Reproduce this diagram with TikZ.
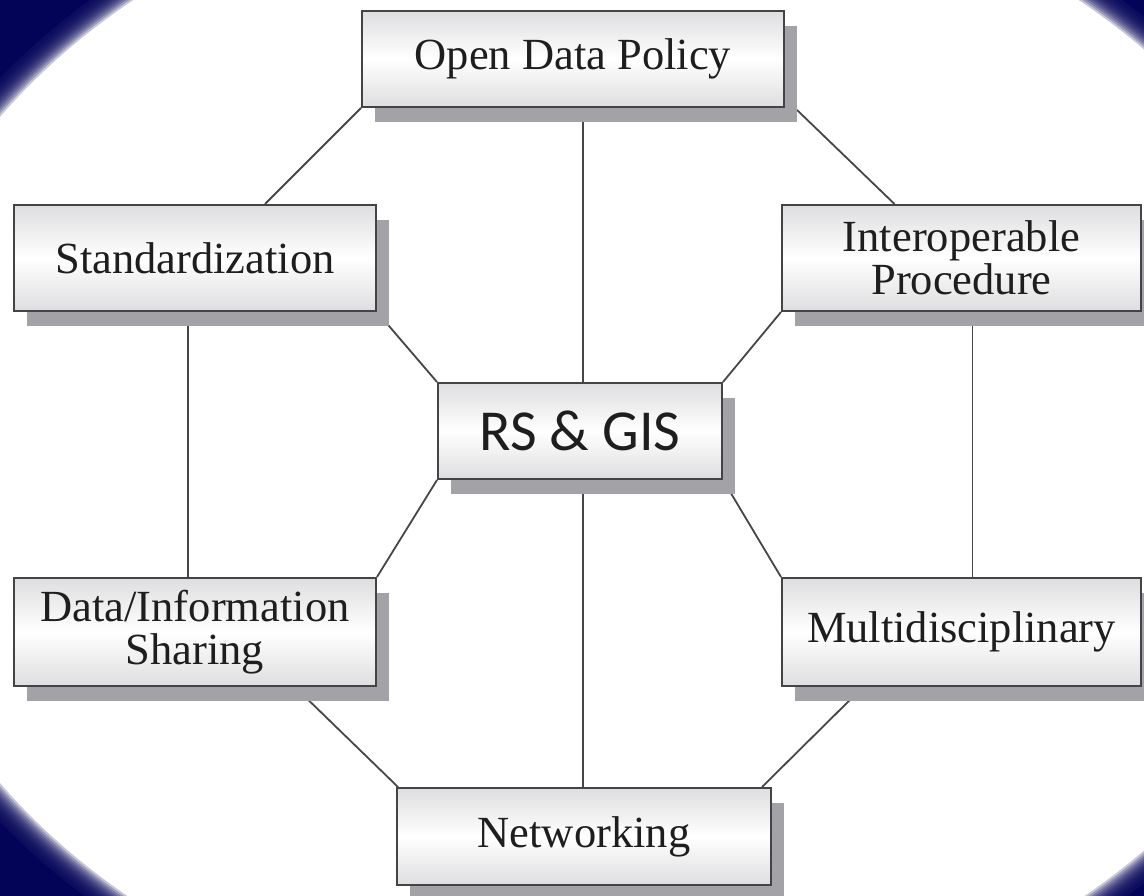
\documentclass[tikz,border=0pt]{standalone}
\usepackage{fontspec}
\setmainfont{Liberation Serif}
\newfontfamily\calibfont{Carlito}
\usetikzlibrary{shadows}
\definecolor{navy}{RGB}{3,3,88}
\definecolor{boxline}{RGB}{68,68,70}
\definecolor{shadowgray}{RGB}{163,163,167}
\definecolor{conn}{RGB}{70,70,72}
\definecolor{boxgray}{RGB}{222,222,224}
\definecolor{txt}{RGB}{30,30,30}
\pgfdeclarelayer{bg}
\pgfdeclarelayer{lines}
\pgfsetlayers{bg,lines,main}
\begin{document}
\begin{tikzpicture}[x=1pt,y=-1pt,
  box/.style={draw=boxline, line width=2pt, top color=boxgray, bottom color=boxgray, middle color=white,
    drop shadow={shadow xshift=13pt, shadow yshift=-15pt, fill=shadowgray, opacity=1},
    text=txt, align=center, inner sep=0pt, font=\fontsize{44.5}{43}\selectfont},
  link/.style={draw=conn, line width=1.8pt},
  vign/.style={fill=navy, even odd rule}]
\useasboundingbox (0,0) rectangle (1144,896);
\begin{pgfonlayer}{bg}
  \fill[white] (0,0) rectangle (1144,896);
  \foreach \s in {0.972,0.975,...,1.007}{
    \fill[vign, fill opacity=0.22] (-10,-10) rectangle (1154,906) (606,450) ellipse [x radius=757*\s, y radius=604*\s];
  }
  \fill[vign] (-10,-10) rectangle (1154,906) (606,450) ellipse [x radius=757*1.01, y radius=604*1.01];
\end{pgfonlayer}

\node[box, minimum width=422pt, minimum height=96pt] (ODP) at (573,59) {Open Data Policy};
\node[box, minimum width=362pt, minimum height=106pt] (Stand) at (195,258) {Standardization};
\node[box, minimum width=359pt, minimum height=106pt] (Interop) at (961.5,258) {Interoperable\\Procedure};
\node[box, minimum width=284pt, minimum height=96pt, font=\calibfont\fontsize{58}{60}\selectfont] (RS) at (580,431) {RS \& GIS};
\node[box, minimum width=362pt, minimum height=108pt] (Data) at (195,632) {Data/Information\\Sharing};
\node[box, minimum width=359pt, minimum height=108pt] (Multi) at (961.5,632) {Multidisciplinary};
\node[box, minimum width=374pt, minimum height=97pt] (Net) at (584,836.5) {Networking};

\begin{pgfonlayer}{lines}
  \draw[link] ([xshift=10pt]ODP.south) -- ([xshift=3pt]RS.north);
  \draw[link] (ODP.south west) -- ([xshift=70pt]Stand.north);
  \draw[link] ([shift={(12pt,-2pt)}]ODP.south east) -- ([xshift=-67pt]Interop.north);
  \draw[link] (Stand.south east) -- (RS.north west);
  \draw[link] (Interop.south west) -- (RS.north east);
  \draw[link] ([xshift=-7pt]Stand.south) -- ([xshift=-7pt]Data.north);
  \draw[link] ([xshift=11pt]Interop.south) -- ([xshift=11pt]Multi.north);
  \draw[link] (RS.south west) -- (Data.north east);
  \draw[link] (RS.south east) -- (Multi.north west);
  \draw[link] ([xshift=3pt]RS.south) -- ([xshift=-1pt]Net.north);
  \draw[link] ([xshift=100pt]Data.south) -- ([xshift=-186pt]Net.north);
  \draw[link] ([xshift=-98.5pt]Multi.south) -- ([xshift=178pt]Net.north);
\end{pgfonlayer}
\end{tikzpicture}
\end{document}
